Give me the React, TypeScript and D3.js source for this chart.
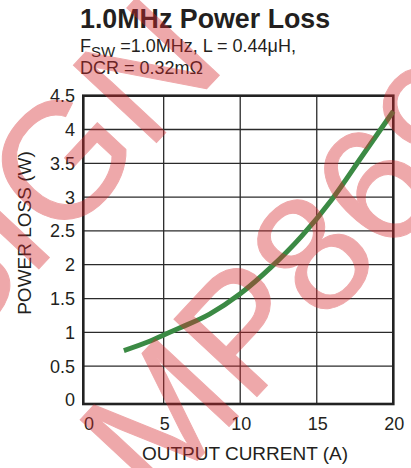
import React from 'react';
import * as d3 from 'd3';

// Output current (A) vs power loss (W)
const currentA = [2.4, 4, 5, 6, 8, 10, 12, 14, 16, 18, 20];
const lossW = [0.73, 0.86, 0.96, 1.06, 1.27, 1.57, 1.96, 2.42, 2.97, 3.62, 4.27];

const xTicks = [0, 5, 10, 15, 20];
const yTicks = [0, 0.5, 1, 1.5, 2, 2.5, 3, 3.5, 4, 4.5];

// background stamp, text origin on baseline
const watermarks = [
  { text: 'DESIGN', x: -203, y: 528 },
  { text: 'MP8690', x: 154, y: 507 },
];

const W = 411;
const H = 468;
const font = 'Arial, "Liberation Sans", Helvetica, sans-serif';
const ink = '#231f20';

export default function App() {
  const x = d3.scaleLinear().domain([-0.25, 20]).range([83.3, 393.3]);
  const y = d3.scaleLinear().domain([-0.06, 4.5]).range([404, 95.7]);

  const line = d3
    .line<number>()
    .x((_, i) => x(currentA[i]))
    .y(d => y(d))
    .curve(d3.curveMonotoneX);

  const [x0, x1] = x.range();
  const [y0, y1] = y.range();

  return (
    <svg
      width={W}
      height={H}
      style={{ position: 'absolute', left: 0, top: 0, background: '#fff' }}
      fontFamily={font}
    >
      {/* title block */}
      <text x={80} y={27.5} fontSize={26.8} fontWeight="bold" fill={ink}>
        1.0MHz Power Loss
      </text>
      <text x={80} y={52} fontSize={18} fill={ink}>
        F
        <tspan fontSize={15} dy={4.5}>SW</tspan>
        <tspan dy={-4.5}> =1.0MHz, L = 0.44μH,</tspan>
      </text>
      <text x={80} y={74} fontSize={18} fill={ink}>
        DCR = 0.32mΩ
      </text>

      {/* grid */}
      <g stroke="#2b2b2b" strokeWidth={1.3}>
        {xTicks.filter(t => t > 0 && t < 20).map(t => (
          <line key={'gx' + t} x1={x(t)} x2={x(t)} y1={y0} y2={y1} />
        ))}
        {yTicks.filter(t => t > 0 && t < 4.5).map(t => (
          <line key={'gy' + t} x1={x0} x2={x1} y1={y(t)} y2={y(t)} />
        ))}
      </g>
      <rect
        x={x0}
        y={y1}
        width={x1 - x0}
        height={y0 - y1}
        fill="none"
        stroke="#222"
        strokeWidth={2.6}
      />

      {/* curve */}
      <path
        d={line(lossW) || ''}
        fill="none"
        stroke="#3b8a44"
        strokeWidth={5}
      />

      {/* ticks */}
      <g fontSize={18} fill={ink} textAnchor="end">
        {yTicks.map(t => (
          <text key={'ty' + t} x={75} y={y(t)} dy="0.36em">
            {t}
          </text>
        ))}
      </g>
      <g fontSize={18} fill={ink} textAnchor="middle">
        {xTicks.map(t => (
          <text key={'tx' + t} x={x(t) + (t === 0 ? 2 : 1)} y={429.5}>
            {t}
          </text>
        ))}
      </g>

      {/* axis titles */}
      <text x={245} y={460} fontSize={19} fill={ink} textAnchor="middle">
        OUTPUT CURRENT (A)
      </text>
      <text
        transform="translate(31,233) rotate(-90)"
        fontSize={19}
        fill={ink}
        textAnchor="middle"
      >
        POWER LOSS (W)
      </text>

      {/* watermark */}
      <g
        fill="#d7282d"
        stroke="#d7282d"
        strokeWidth={1}
        opacity={0.4}
        fontSize={165}
      >
        {watermarks.map(w => (
          <text key={w.text} transform={`translate(${w.x},${w.y}) rotate(-47)`}>
            {w.text}
          </text>
        ))}
      </g>
    </svg>
  );
}
